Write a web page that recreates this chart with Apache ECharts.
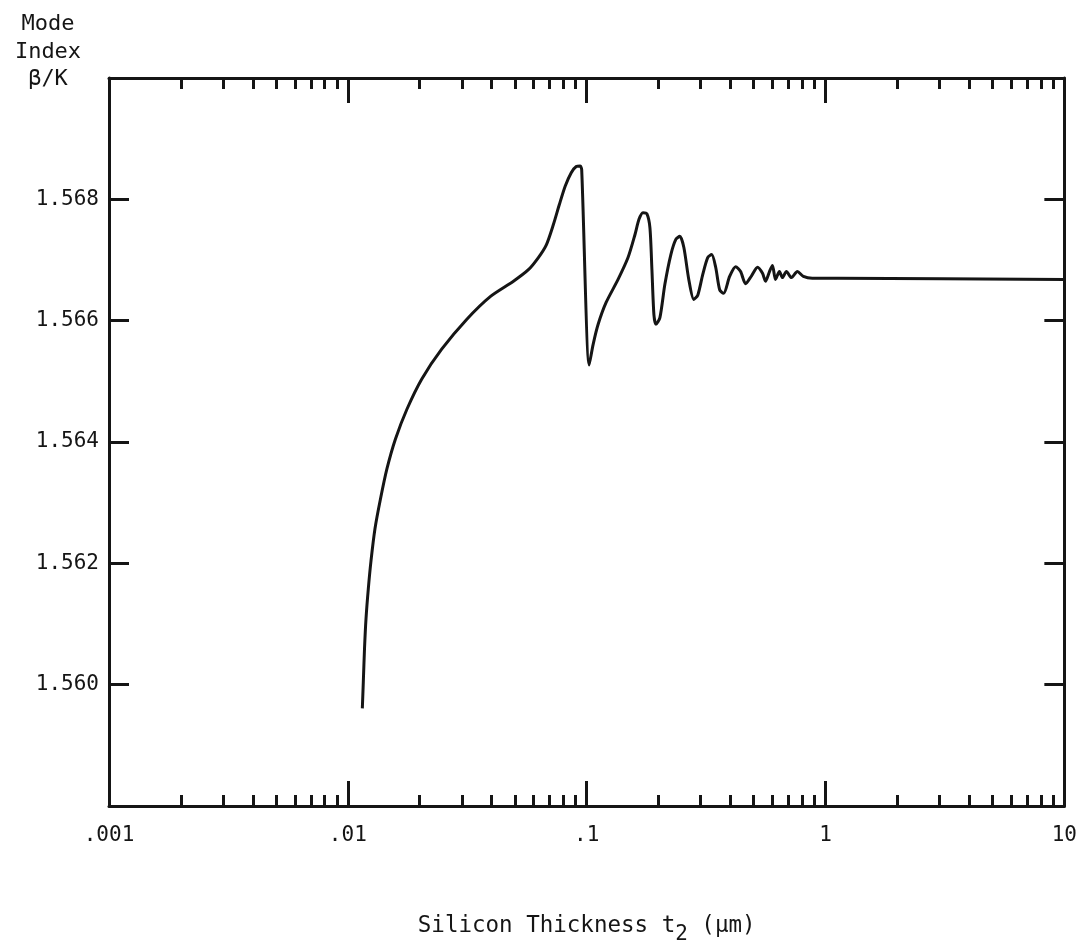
<!DOCTYPE html>
<html>
<head>
<meta charset="utf-8">
<script src="https://cdn.jsdelivr.net/npm/echarts@6/dist/echarts.min.js"></script>
<style>
  html, body { margin: 0; padding: 0; background: #fff; }
  #chart { width: 1080px; height: 950px; }
</style>
</head>
<body>
<div id="chart"></div>
<script>
// Silicon thickness t2 (µm)
const thickness = [
  0.01150, 0.01161, 0.011745, 0.011915, 0.012181, 0.012501, 0.012990, 0.013695, 0.014581, 0.015826,
  0.017675, 0.020403, 0.024713, 0.031434, 0.039582, 0.049369, 0.057016, 0.062774, 0.067780, 0.072488,
  0.076785, 0.081337, 0.086167, 0.090399, 0.093942, 0.095304,
  0.10242, 0.10644, 0.11169, 0.12062, 0.13535, 0.14898, 0.15935,
  0.16558, 0.17208, 0.17877, 0.18403, 0.18758, 0.19120, 0.19495, 0.20259, 0.21253, 0.22517,
  0.23621, 0.24547, 0.25510, 0.26761, 0.28081, 0.29179, 0.30608, 0.32117, 0.33376, 0.34684,
  0.36037, 0.37451, 0.39673, 0.42033, 0.44096, 0.46268, 0.49013, 0.51917, 0.54477, 0.56070,
  0.58266, 0.59966, 0.61719, 0.64141, 0.66013, 0.68602, 0.71982, 0.76245, 0.80757, 0.88030,
  1.1194, 10
];
// Mode index beta/K
const modeIndex = [
  1.55961, 1.56005, 1.56060, 1.56109, 1.56158, 1.56204, 1.56257, 1.56306, 1.56356, 1.56405,
  1.56454, 1.56504, 1.56553, 1.56602, 1.56640, 1.56665, 1.56684, 1.56704, 1.56725, 1.56758,
  1.56791, 1.56822, 1.56844, 1.56854, 1.56855, 1.56849,
  1.56527, 1.56561, 1.56594, 1.56630, 1.56668, 1.56704, 1.56742,
  1.56767, 1.56778, 1.56776, 1.56753, 1.56684, 1.56610, 1.56594, 1.56605, 1.56660, 1.56709,
  1.56734, 1.56739, 1.56721, 1.56668, 1.56635, 1.56642, 1.56676, 1.56704, 1.56709, 1.56688,
  1.56651, 1.56645, 1.56673, 1.56689, 1.56681, 1.56661, 1.56674, 1.56688, 1.56678, 1.56665,
  1.56681, 1.56691, 1.56668, 1.56681, 1.56671, 1.56681, 1.56671, 1.56681, 1.56673, 1.56670,
  1.56670, 1.56668
];

// Axis ticks and labels
const xLabelValues = [0.001, 0.01, 0.1, 1, 10];
const xLabelTexts = ['.001', '.01', '.1', '1', '10'];
const xMajorTicks = [0.01, 0.1, 1];
const xMinorTicks = [
  0.002, 0.003, 0.004, 0.005, 0.006, 0.007, 0.008, 0.009,
  0.02, 0.03, 0.04, 0.05, 0.06, 0.07, 0.08, 0.09,
  0.2, 0.3, 0.4, 0.5, 0.6, 0.7, 0.8, 0.9,
  2, 3, 4, 5, 6, 7, 8, 9
];
const yTickValues = [1.560, 1.562, 1.564, 1.566, 1.568];
const yTickLabels = ['1.560', '1.562', '1.564', '1.566', '1.568'];

const FONT = '"DejaVu Sans Mono", "Liberation Mono", monospace';
const INK = '#151515';

const chart = echarts.init(document.getElementById('chart'), null, { renderer: 'canvas' });

function xAxisDef(position, ticks, len, withLine, withLabels) {
  return {
    type: 'log', logBase: 10, min: 0.001, max: 10, position: position,
    axisLine: { show: withLine, onZero: false, lineStyle: { color: INK, width: 3 } },
    axisTick: { show: true, inside: true, length: len, customValues: ticks, lineStyle: { color: INK, width: 3 } },
    axisLabel: withLabels ? {
      show: true, margin: 19, customValues: xLabelValues,
      fontFamily: FONT, fontSize: 21, color: INK,
      formatter: function (v) {
        for (let i = 0; i < xLabelValues.length; i++) {
          if (Math.abs(Math.log10(v) - Math.log10(xLabelValues[i])) < 1e-6) return xLabelTexts[i];
        }
        return '';
      }
    } : { show: false },
    splitLine: { show: false }, minorTick: { show: false }, minorSplitLine: { show: false }
  };
}

function yAxisDef(position, withLabels) {
  return {
    type: 'value', min: 1.558, max: 1.570, interval: 0.002, position: position,
    axisLine: { show: true, onZero: false, lineStyle: { color: INK, width: 3 } },
    axisTick: { show: true, inside: true, length: 20, customValues: yTickValues, lineStyle: { color: INK, width: 3 } },
    axisLabel: withLabels ? {
      show: true, margin: 10, customValues: yTickValues,
      fontFamily: FONT, fontSize: 21, color: INK,
      formatter: function (v) {
        for (let i = 0; i < yTickValues.length; i++) {
          if (Math.abs(v - yTickValues[i]) < 1e-7) return yTickLabels[i];
        }
        return '';
      }
    } : { show: false },
    splitLine: { show: false }
  };
}

const xAxes = [
  xAxisDef('bottom', xMajorTicks, 25, true, true),
  xAxisDef('bottom', xMinorTicks, 11, false, false),
  xAxisDef('top', xMajorTicks, 25, true, false),
  xAxisDef('top', xMinorTicks, 11, false, false)
];
xAxes[0].name = 'Silicon Thickness t{sub|2} ({mu|µ}m)';
xAxes[0].nameLocation = 'middle';
xAxes[0].nameGap = 102;
xAxes[0].nameTextStyle = {
  fontFamily: FONT, fontSize: 22.5, color: INK,
  rich: {
    sub: { fontFamily: FONT, fontSize: 21, color: INK, padding: [16, 0, 0, 0] },
    mu: { fontFamily: FONT, fontSize: 22.5, color: INK }
  }
};

chart.setOption({
  backgroundColor: '#ffffff',
  animation: false,
  title: {
    text: 'Mode\nIndex\nβ/K',
    left: 43, top: 6, textAlign: 'center',
    textStyle: { fontFamily: FONT, fontSize: 22, fontWeight: 'normal', color: INK, lineHeight: 27.5, align: 'center' }
  },
  grid: { left: 109, right: 12, top: 78, bottom: 142, containLabel: false },
  xAxis: xAxes,
  yAxis: [yAxisDef('left', true), yAxisDef('right', false)],
  series: [{
    type: 'line',
    xAxisIndex: 0, yAxisIndex: 0,
    data: thickness.map((t, i) => [t, modeIndex[i]]),
    showSymbol: false, symbol: 'none',
    smooth: 0.25,
    lineStyle: { color: INK, width: 3 }
  }]
});
</script>
</body>
</html>
